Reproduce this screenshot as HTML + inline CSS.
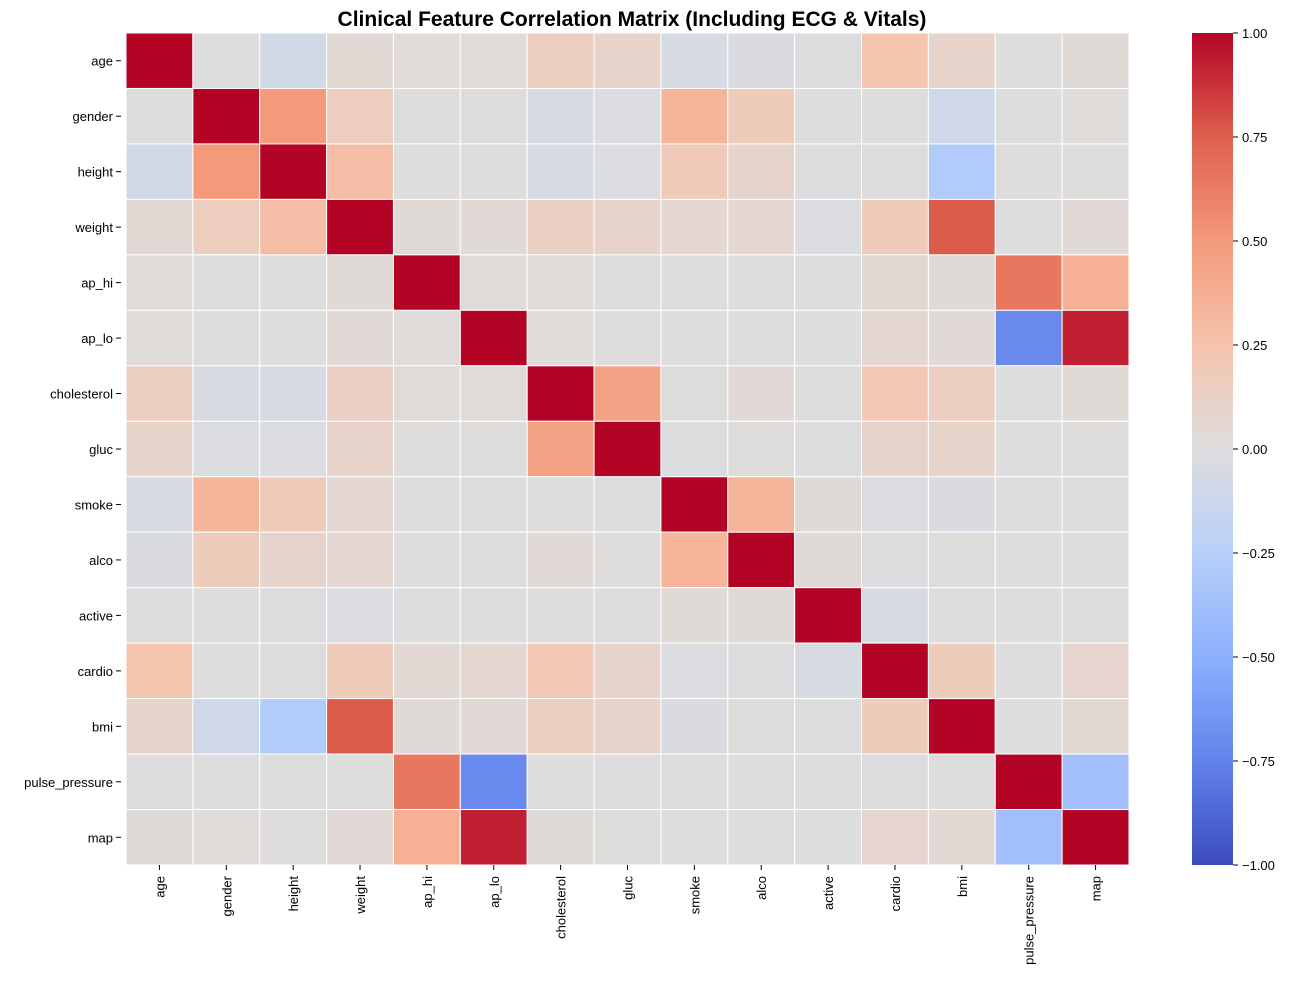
<!DOCTYPE html>
<html><head><meta charset="utf-8"><style>
body{margin:0;background:#fff;font-family:"Liberation Sans",sans-serif;}
svg text{font-family:"Liberation Sans",sans-serif;}
</style></head><body>
<svg id="chart" width="1295" height="989">
<text x="632" y="26" text-anchor="middle" font-size="21" font-weight="bold">Clinical Feature Correlation Matrix (Including ECG &amp; Vitals)</text>
<g id="cells"></g>
<g id="ylabels"></g>
<g id="xlabels"></g>
<defs><linearGradient id="cg" x1="0" y1="1" x2="0" y2="0"></linearGradient></defs>
<rect x="1192" y="33" width="41" height="832" fill="url(#cg)"/>
<g id="cbticks"></g>
</svg>
<script>
const labels=["age","gender","height","weight","ap_hi","ap_lo","cholesterol","gluc","smoke","alco","active","cardio","bmi","pulse_pressure","map"];
const matrix=[
[1,0,-0.08,0.05,0.02,0.02,0.15,0.1,-0.05,-0.03,-0.01,0.24,0.1,0.0,0.03],
[0,1,0.5,0.16,0.01,0.01,-0.04,-0.02,0.34,0.17,0.0,0.0,-0.1,0.0,0.02],
[-0.08,0.5,1,0.29,0.0,0.0,-0.05,-0.02,0.19,0.09,-0.01,-0.01,-0.29,0.0,0.01],
[0.05,0.16,0.29,1,0.03,0.04,0.14,0.1,0.07,0.07,-0.02,0.18,0.76,0.0,0.04],
[0.02,0.01,0,0.03,1,0.02,0.02,0.01,0,0,0,0.05,0.03,0.65,0.37],
[0.02,0.01,0,0.04,0.02,1,0.02,0.01,0,0,0,0.07,0.04,-0.71,0.93],
[0.15,-0.04,-0.05,0.14,0.02,0.02,1,0.45,0.01,0.04,0.01,0.22,0.15,0,0.03],
[0.1,-0.02,-0.02,0.1,0.01,0.01,0.45,1,-0.01,0.01,-0.01,0.09,0.1,0,0.01],
[-0.05,0.34,0.19,0.07,0,0,0.01,-0.01,1,0.34,0.03,-0.02,-0.03,0,0],
[-0.03,0.17,0.09,0.07,0,0,0.04,0.01,0.34,1,0.03,-0.01,0.01,0,0],
[-0.01,0,-0.01,-0.02,0,0,0.01,-0.01,0.03,0.03,1,-0.04,-0.01,0,0],
[0.24,0,-0.01,0.18,0.05,0.07,0.22,0.09,-0.02,-0.01,-0.04,1,0.17,-0.01,0.08],
[0.1,-0.1,-0.29,0.76,0.03,0.04,0.15,0.1,-0.03,0.01,-0.01,0.17,1,0,0.05],
[0,0,0,0,0.65,-0.71,0,0,0,0,0,-0.01,0,1,-0.38],
[0.03,0.02,0.01,0.04,0.37,0.93,0.03,0.01,0,0,0,0.08,0.05,-0.38,1]];
const cbTicks=[1,0.75,0.5,0.25,0,-0.25,-0.5,-0.75,-1];
const stops=[[59,76,192],[98,130,234],[141,176,254],[184,208,249],[221,221,221],[245,196,173],[244,154,123],[222,96,77],[180,4,38]];
function cmap(v){let t=(Math.max(-1,Math.min(1,v))+1)/2*8;let i=Math.min(7,Math.floor(t)),f=t-i;const a=stops[i],b=stops[i+1];return `rgb(${a.map((c,k)=>Math.round(c+(b[k]-c)*f)).join(',')})`;}
const NS="http://www.w3.org/2000/svg";
const X0=126,X1=1129,Y0=33,Y1=865,n=labels.length,cw=(X1-X0)/n,ch=(Y1-Y0)/n;
const xs=i=>X0+i*cw, ys=i=>Y0+i*ch;
const cells=document.getElementById('cells');
matrix.forEach((row,r)=>row.forEach((v,c)=>{const e=document.createElementNS(NS,'rect');
e.setAttribute('x',xs(c));e.setAttribute('y',ys(r));e.setAttribute('width',cw);e.setAttribute('height',ch);
e.setAttribute('fill',cmap(v));e.setAttribute('stroke','#fff');e.setAttribute('stroke-width','1');


cells.appendChild(e);}));
const yl=document.getElementById('ylabels'),xl=document.getElementById('xlabels');
labels.forEach((l,i)=>{
let t=document.createElementNS(NS,'text');t.setAttribute('x',113);t.setAttribute('y',ys(i)+ch/2+5);t.setAttribute('text-anchor','end');t.setAttribute('font-size','13');t.textContent=l;


yl.appendChild(t);
let k=document.createElementNS(NS,'line');k.setAttribute('x1',116);k.setAttribute('x2',121);k.setAttribute('y1',ys(i)+ch/2);k.setAttribute('y2',ys(i)+ch/2);k.setAttribute('stroke','#000');yl.appendChild(k);
let cx=xs(i)+cw/2;
let u=document.createElementNS(NS,'text');u.setAttribute('transform',`translate(${cx+5},${876}) rotate(-90)`);u.setAttribute('text-anchor','end');u.setAttribute('font-size','13');u.textContent=l;


xl.appendChild(u);
let k2=document.createElementNS(NS,'line');k2.setAttribute('x1',cx);k2.setAttribute('x2',cx);k2.setAttribute('y1',865);k2.setAttribute('y2',870);k2.setAttribute('stroke','#000');xl.appendChild(k2);
});
const g=document.getElementById('cg');
stops.forEach((s,i)=>{const st=document.createElementNS(NS,'stop');st.setAttribute('offset',(i/8*100)+'%');st.setAttribute('stop-color',`rgb(${s.join(',')})`);g.appendChild(st);});
const cb=document.getElementById('cbticks');
cbTicks.forEach(v=>{const y=Y0+(1-v)/2*(Y1-Y0);
let k=document.createElementNS(NS,'line');k.setAttribute('x1',1233);k.setAttribute('x2',1238);k.setAttribute('y1',y);k.setAttribute('y2',y);k.setAttribute('stroke','#000');cb.appendChild(k);
let t=document.createElementNS(NS,'text');t.setAttribute('x',1242);t.setAttribute('y',y+5);t.setAttribute('font-size','13');t.textContent=(v<0?'\u2212':'')+Math.abs(v).toFixed(2);


cb.appendChild(t);});
</script>
</body></html>
